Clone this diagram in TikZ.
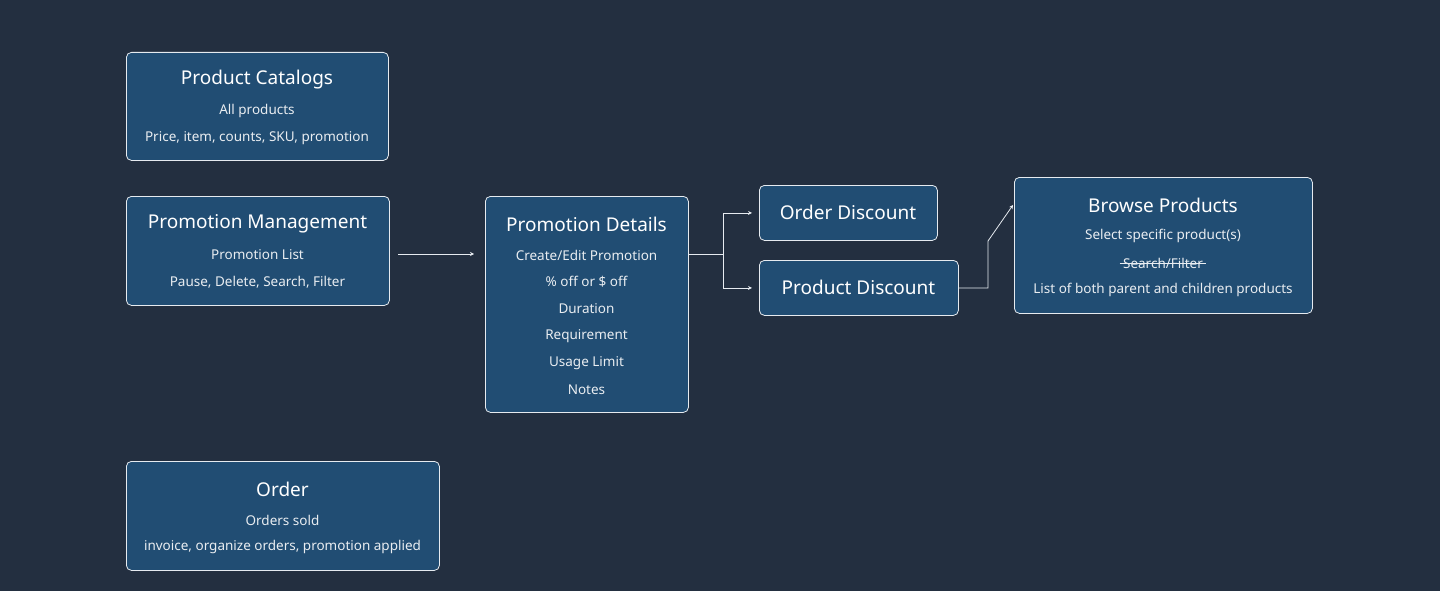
\documentclass[tikz,border=0pt]{standalone}
\usepackage{fontspec}
\setmainfont{Noto Sans}
\usetikzlibrary{arrows.meta}
\definecolor{bg}{HTML}{232F40}
\definecolor{boxfill}{HTML}{214D73}
\definecolor{edge}{HTML}{E6EBF0}
\tikzset{
  box/.style={draw=edge, fill=boxfill, rounded corners=5pt, line width=0.8pt, anchor=north west, inner sep=0pt},
  ttl/.style={text=white, font=\fontsize{19}{22}\selectfont\bfseries},
  txt/.style={text=white!90!boxfill, font=\fontsize{13.5}{16}\selectfont},
  conn/.style={draw=edge, line width=0.8pt, -{Stealth[length=4pt,width=4pt]}},
}
\newcommand{\bx}[5]{\node[box, minimum width=#4pt, minimum height=#5pt] (#1) at (#2pt,-#3pt) {};}
\begin{document}
\begin{tikzpicture}[x=1pt,y=1pt]
\fill[bg] (0,0) rectangle (1440,-591);
\useasboundingbox (0,0) rectangle (1440,-591);
% Product Catalogs
\bx{pc}{126}{52}{262}{108}
\node[ttl] (pct) at (257,-80) {Product Catalogs};
\node[txt] (pc1) at (257,-111) {All products};
\node[txt] (pc2) at (257,-138) {Price, item, counts, SKU, promotion};
% Promotion Management
\bx{pm}{126}{196}{263}{109}
\node[ttl] (pmt) at (257.5,-224) {Promotion Management};
\node[txt] (pm1) at (257.5,-255) {Promotion List};
\node[txt] (pm2) at (257.5,-282) {Pause, Delete, Search, Filter};
% Promotion Details
\bx{pd}{485}{196}{203}{216}
\node[ttl] (pdt) at (586.5,-224) {Promotion Details};
\node[txt] (pd1) at (586.5,-255) {Create/Edit Promotion};
\node[txt] (pd2) at (586.5,-282) {\% off or \$ off};
\node[txt] (pd3) at (586.5,-309) {Duration};
\node[txt] (pd4) at (586.5,-336) {Requirement};
\node[txt] (pd5) at (586.5,-363) {Usage Limit};
\node[txt] (pd6) at (586.5,-390) {Notes};
% Order Discount
\bx{od}{759}{185}{178}{55}
\node[ttl] (odt) at (848,-212.5) {Order Discount};
% Product Discount
\bx{prd}{759}{260}{199}{55}
\node[ttl] (prdt) at (858.5,-287.5) {Product Discount};
% Browse Products
\bx{bp}{1014}{177}{298}{136}
\node[ttl] (bpt) at (1163,-205) {Browse Products};
\node[txt] (bp1) at (1163,-236) {Select specific product(s)};
\node[txt] (bp2) at (1163,-263) {Search/Filter};
\draw[white!90!boxfill, line width=0.6pt] (bp2.west) -- (bp2.east);
\node[txt] (bp3) at (1163,-290) {List of both parent and children products};
% Order
\bx{or}{126}{461}{313}{109}
\node[ttl] (ort) at (282.5,-489) {Order};
\node[txt] (or1) at (282.5,-520) {Orders sold};
\node[txt] (or2) at (282.5,-547) {invoice, organize orders, promotion applied};
% connectors
\coordinate (a0) at (398,-254);
\coordinate (a1) at (474,-254);
\draw[conn] (a0) -- (a1);
\coordinate (s) at (688,-254);
\coordinate (j) at (723,-254);
\draw[edge, line width=0.8pt] (s) -- (j);
\draw[conn] (j) |- ([xshift=-7pt]od.west);
\draw[conn] (j) |- ([xshift=-7pt]prd.west);
\draw[conn] (prd.east) -| (988,-241) -- ([xshift=-1pt,yshift=-28pt]bp.north west);
\end{tikzpicture}
\end{document}
